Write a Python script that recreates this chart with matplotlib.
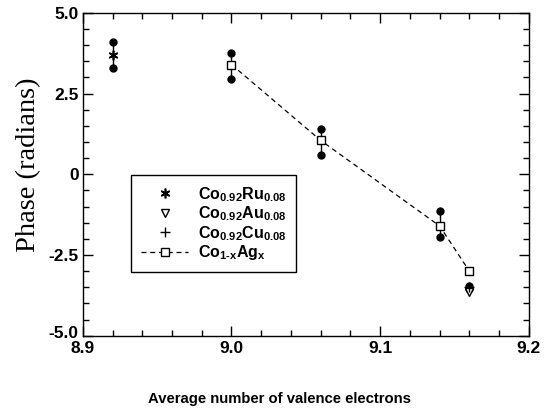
import matplotlib
matplotlib.use("Agg")
import matplotlib.pyplot as plt
from matplotlib.ticker import MultipleLocator
from matplotlib.transforms import ScaledTranslation

plt.rcParams['font.family'] = 'Liberation Sans'
plt.rcParams['font.weight'] = 'bold'
plt.rcParams['mathtext.fontset'] = 'custom'
plt.rcParams['mathtext.rm'] = 'Liberation Sans:bold'
plt.rcParams['mathtext.it'] = 'Liberation Sans:bold'
plt.rcParams['mathtext.bf'] = 'Liberation Sans:bold'
plt.rcParams['mathtext.default'] = 'bf'

# Data
ru_x = [8.92]
ru_y = [3.70]
ru_err_lo = [3.30]
ru_err_hi = [4.10]

au_x = [9.16]
au_y = [-3.65]

cu_x = [9.16]
cu_y = [-3.50]
cu_err_lo = [-3.55]
cu_err_hi = [-3.45]

ag_x = [9.00, 9.06, 9.14, 9.16]
ag_y = [3.40, 1.05, -1.60, -3.00]
ag_err_lo = [2.95, 0.60, -1.95, None]
ag_err_hi = [3.75, 1.40, -1.15, None]

x_ticks = [8.9, 9.0, 9.1, 9.2]
x_ticklabels = ['8.9', '9.0', '9.1', '9.2']
y_ticks = [5.0, 2.5, 0.0, -2.5, -5.0]
y_ticklabels = ['5.0', '2.5', '0', '-2.5', '-5.0']

fig = plt.figure(figsize=(5.52, 4.17), dpi=100)
ax = fig.add_axes([0.150, 0.195, 0.808, 0.774])

def err(xs, lo, hi):
    for xv, l, h in zip(xs, lo, hi):
        if l is None:
            continue
        ax.plot([xv, xv], [l, h], color='black', lw=1.0, zorder=2)
        ax.plot([xv, xv], [l, h], 'o', color='black', ms=5, zorder=3)

err(ru_x, ru_err_lo, ru_err_hi)
err(ag_x, ag_err_lo, ag_err_hi)
err(cu_x, cu_err_lo, cu_err_hi)

h_ru, = ax.plot(ru_x, ru_y, ls='none', marker=(6, 2, 0), color='black', ms=7, mew=1.2, zorder=4,
                label=r'Co$_{0.92}$Ru$_{0.08}$')
h_au, = ax.plot(au_x, au_y, ls='none', marker='v', mfc='white', mec='black', ms=6, mew=1.0, zorder=4,
                label=r'Co$_{0.92}$Au$_{0.08}$')
h_cu, = ax.plot(cu_x, cu_y, ls='none', marker='+', color='black', ms=7, mew=1.0, zorder=4,
                label=r'Co$_{0.92}$Cu$_{0.08}$')
h_ag, = ax.plot(ag_x, ag_y, ls=(0, (4, 3)), lw=0.9, color='black', marker='s', mfc='white', mec='black',
                ms=6, mew=1.0, zorder=4, label=r'Co$_{1\text{-}x}$Ag$_x$')

ax.set_xlim(8.9, 9.2)
ax.set_ylim(-5.0, 5.0)
ax.set_xticks(x_ticks)
ax.set_xticklabels(x_ticklabels)
ax.set_yticks(y_ticks)
ax.set_yticklabels(y_ticklabels)
ax.xaxis.set_minor_locator(MultipleLocator(0.02))
ax.yaxis.set_minor_locator(MultipleLocator(0.5))
ax.tick_params(which='both', direction='in', top=True, right=True, labelsize=12.5, width=1.0)
ax.tick_params(which='major', length=7)
ax.tick_params(which='minor', length=4.5)
ax.tick_params(axis='x', pad=3.5)
ax.tick_params(axis='y', pad=3)
for lab in ax.get_xticklabels() + ax.get_yticklabels():
    lab.set_fontweight('bold')
for s in ax.spines.values():
    s.set_linewidth(1.0)

# nudge the lowest y tick label up slightly so it does not collide with "8.9"
ylabs = ax.get_yticklabels()
ylabs[-1].set_transform(ylabs[-1].get_transform() + ScaledTranslation(0, 4 / 100, fig.dpi_scale_trans))

ax.set_xlabel('Average number of valence electrons', fontsize=10.7, fontweight='bold')
ax.xaxis.set_label_coords(0.442, -0.175)
ax.set_ylabel('Phase (radians)', fontsize=20.5, fontweight='normal', family='Liberation Serif')
ax.yaxis.set_label_coords(-0.093, 0.53)

leg = ax.legend(handles=[h_ru, h_au, h_cu, h_ag], loc='upper left', bbox_to_anchor=(0.108, 0.497),
                fancybox=False, edgecolor='black', framealpha=1, fontsize=11.5,
                handlelength=3.0, labelspacing=0.05, borderpad=0.6, handletextpad=0.6, borderaxespad=0)
leg.get_frame().set_linewidth(1.0)

fig.savefig('out.png', dpi=100)
